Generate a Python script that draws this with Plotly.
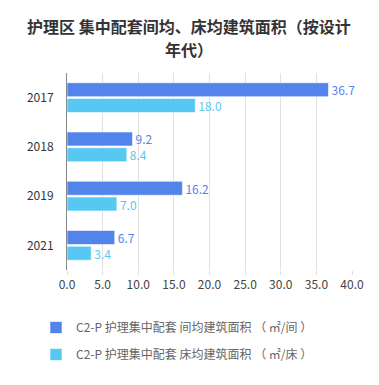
import plotly.graph_objects as go

years = ["2017", "2018", "2019", "2021"]
per_room = [36.7, 9.2, 16.2, 6.7]
per_bed = [18.0, 8.4, 7.0, 3.4]
x_ticks = [0, 5, 10, 15, 20, 25, 30, 35, 40]
x_tick_labels = ["0.0", "5.0", "10.0", "15.0", "20.0", "25.0", "30.0", "35.0", "40.0"]

title_lines = ["护理区 集中配套间均、床均建筑面积（按设计", "年代）"]
name_room = "C2-P 护理集中配套 间均建筑面积 （ ㎡/间 ）"
name_bed = "C2-P 护理集中配套 床均建筑面积 （ ㎡/床 ）"
c_room = "#5384EC"
c_bed = "#57C8F2"
FONT = "Noto Sans CJK SC, Microsoft YaHei, sans-serif"

# page body has an 8px margin; figure is sized to fill the rest of the window
W, H = 371, 377
ML, MT, MR, MB = 59, 65, 27, 115
PW, PH = W - ML - MR, H - MT - MB

fig = go.Figure()
fig.add_trace(go.Bar(
    y=years, x=per_room, orientation="h", name=name_room, legendgroup="a",
    marker=dict(color=c_room, line=dict(color="rgba(255,255,255,0.6)", width=1)),
    text=[f"{v:.1f}" for v in per_room], textposition="outside", constraintext="none",
    textfont=dict(color=c_room, size=12, family=FONT), cliponaxis=False,
))
fig.add_trace(go.Bar(
    y=years, x=per_bed, orientation="h", name=name_bed, legendgroup="b",
    marker=dict(color=c_bed, line=dict(color="rgba(255,255,255,0.6)", width=1)),
    text=[f"{v:.1f}" for v in per_bed], textposition="outside", constraintext="none",
    textfont=dict(color=c_bed, size=12, family=FONT), cliponaxis=False,
))

title_ann = []
for line, ypix in zip(title_lines, [18, 41]):
    title_ann.append(dict(
        text="<b>" + line + "</b>", showarrow=False,
        xref="paper", yref="paper",
        x=(180.5 - ML) / PW, y=1 + (MT - ypix) / PH,
        xanchor="center", yanchor="middle", align="center",
        font=dict(size=16, color="#333", family=FONT),
    ))

fig.update_layout(
    width=W, height=H,
    margin=dict(l=ML, r=MR, t=MT, b=MB, autoexpand=False),
    paper_bgcolor="white", plot_bgcolor="white",
    font=dict(family=FONT, size=12, color="#333"),
    annotations=title_ann,
    barmode="group", bargap=0.36, bargroupgap=0.11,
    showlegend=True,
    legend=dict(xref="container", yref="container",
                x=28 / W, xanchor="left", y=1 - 305 / H, yanchor="top",
                orientation="v", traceorder="grouped", tracegroupgap=8,
                font=dict(size=12, color="#666", family=FONT)),
    xaxis=dict(range=[0, 40], tickvals=x_ticks, ticktext=x_tick_labels,
               showgrid=True, gridcolor="#e0e0e0", gridwidth=1,
               zeroline=False, showline=False, automargin=False,
               ticks="outside", ticklen=4, tickcolor="#e0e0e0",
               tickfont=dict(size=12, color="#444")),
    yaxis=dict(categoryorder="array", categoryarray=years, autorange="reversed",
               showline=True, linecolor="#888", linewidth=1, automargin=False,
               ticks="", ticklabelstandoff=10,
               tickfont=dict(size=12, color="#333")),
)

fig.write_html("out.html")
